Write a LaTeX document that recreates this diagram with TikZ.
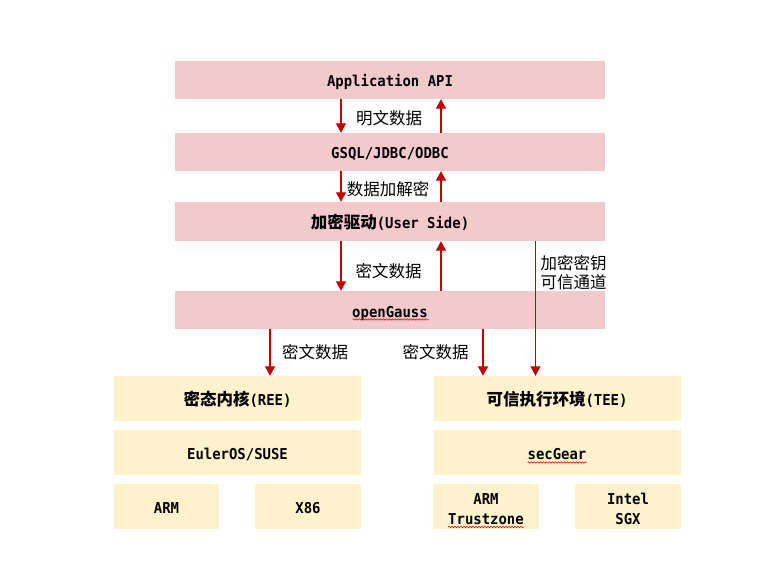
\documentclass[tikz,border=0pt]{standalone}
\usepackage{fontspec}
\setmainfont{DejaVu Sans Mono}[FakeStretch=0.93]
\newfontfamily\cjk{Noto Sans CJK SC}
\newcommand\zhbox[1]{{\cjk\fontsize{16.5}{20}\selectfont #1}}
\usetikzlibrary{arrows.meta,decorations.pathmorphing}
\definecolor{pinkbox}{HTML}{F2CACB}
\definecolor{yelbox}{HTML}{FFF2CC}
\definecolor{arrred}{HTML}{C00000}
\begin{document}
\begin{tikzpicture}[x=1pt,y=-1pt,
  boxbase/.style={draw=none, inner sep=0pt, text height=14pt, text depth=0pt,
    font=\bfseries\fontsize{15}{20}\selectfont},
  pbox/.style={boxbase, fill=pinkbox, minimum width=430pt, minimum height=38pt},
  ybig/.style={boxbase, fill=yelbox, minimum width=247pt, minimum height=45pt},
  ysmall/.style={boxbase, fill=yelbox, minimum width=106pt, minimum height=45pt},
  ytwo/.style={draw=none, inner sep=0pt, align=center, fill=yelbox,
    minimum width=106pt, minimum height=45pt,
    font=\bfseries\fontsize{15}{20}\selectfont},
  lbl/.style={inner sep=0pt, align=center, font=\cjk\fontsize{16.5}{19}\selectfont},
  arr/.style={draw=arrred, line width=1.3pt, -{Triangle[length=9.5pt,width=10pt]}},
  thinarr/.style={arr, line width=1pt},
  squig/.style={draw=red!85!black, line width=0.5pt, decorate,
    decoration={snake, amplitude=0.8pt, segment length=3pt}}
]
\useasboundingbox (0,0) rectangle (784,588);

% pink stack
\node[pbox] (app)  at (390,80)    {Application API};
\node[pbox] (gsql) at (390,152)   {GSQL/JDBC/ODBC};
\node[pbox, minimum height=39pt] (drv) at (390,221.5) {\zhbox{加密驱动}(User Side)};
\node[pbox] (og)   at (390,310)   {openGauss};

% yellow blocks
\node[ybig] (ree)  at (237.5,398.5) {\zhbox{密态内核}(REE)};
\node[ybig] (tee)  at (557,398.5)   {\zhbox{可信执行环境}(TEE)};
\node[ybig] (euler) at (237.5,452.5) {EulerOS/SUSE};
\node[ybig] (sec)  at (557,452.5)   {secGear};
\node[ysmall, minimum width=105pt] (arm) at (166.5,506.5) {ARM};
\node[ysmall] (x86) at (308,506.5)  {X86};
\node[ytwo] (tz)  at (486,506.5)  {\rule{0pt}{17pt}ARM\\Trustzone};
\node[ytwo] (sgx) at (628,506.5)  {\rule{0pt}{17pt}Intel\\SGX};

% connector columns
\coordinate (cl) at (341,0);
\coordinate (cr) at (441,0);
\coordinate (ck) at (535.5,0);
\coordinate (cb1) at (270,0);
\coordinate (cb2) at (483,0);

\draw[arr] (app.south -| cl) -- (gsql.north -| cl);
\draw[arr] (gsql.north -| cr) -- (app.south -| cr);
\draw[arr] (gsql.south -| cl) -- (drv.north -| cl);
\draw[arr] (drv.north -| cr) -- (gsql.south -| cr);
\draw[arr] (drv.south -| cl) -- (og.north -| cl);
\draw[arr] (og.north -| cr) -- (drv.south -| cr);
\draw[thinarr] (drv.south -| ck) -- (tee.north -| ck);
\draw[arr] (og.south -| cb1) -- (ree.north -| cb1);
\draw[arr] (og.south -| cb2) -- (tee.north -| cb2);

% labels
\node[lbl] (l1) at (389,118) {明文数据};
\node[lbl] (l2) at (388,189) {数据加解密};
\node[lbl] (l3) at (388.5,271.5) {密文数据};
\node[lbl] (l4) at (573.5,272.5) {加密密钥\\可信通道};
\node[lbl] (l5) at (315,352.5) {密文数据};
\node[lbl] (l6) at (435.5,352.5) {密文数据};

% spell-check squiggles
\draw[squig] (352.5,319.5) -- (428.5,319.5);
\draw[squig] (527.5,462.5) -- (586.5,462.5);
\draw[squig] (448,527) -- (524,527);
\end{tikzpicture}
\end{document}
